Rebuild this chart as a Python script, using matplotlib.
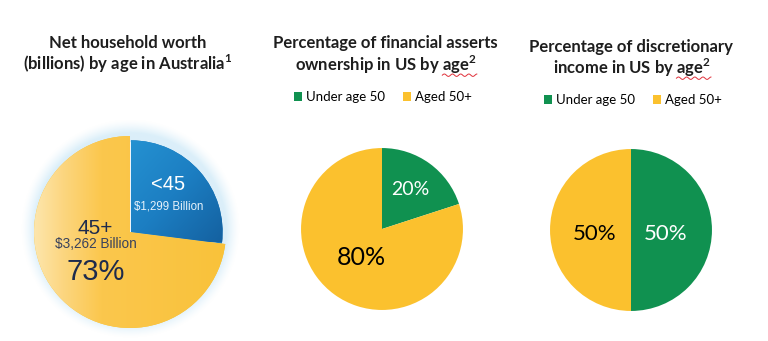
import matplotlib
matplotlib.use("Agg")
import matplotlib.pyplot as plt
import numpy as np
from matplotlib.colors import LinearSegmentedColormap

plt.rcParams['font.family'] = ['Lato', 'DejaVu Sans']
plt.rcParams['mathtext.fontset'] = 'custom'
plt.rcParams['mathtext.rm'] = 'Lato:bold'
plt.rcParams['mathtext.bf'] = 'Lato:bold'

# Australia: net household worth by age (billions) and share of the 45+ group
au_groups = ['<45', '45+']
au_worth = [1299, 3262]
au_share_older = 73

# US by age: financial assets and discretionary income (percent)
us_legend = ['Under age 50', 'Aged 50+']
us_assets = [20, 80]
us_income = [50, 50]

GREEN = '#109150'
YELLOW = '#fbc12e'
TITLE_COLOR = '#1e1e1e'
TITLE_SIZE = 12

W, H = 768, 341
fig = plt.figure(figsize=(W / 100, H / 100), dpi=100)
fig.patch.set_facecolor('white')


def pie_axes(cx, cy, r, span=1.2):
    # square axes centred on (cx, cy) in pixels, one data unit = r pixels
    half = r * span
    ax = fig.add_axes([(cx - half) / W, (H - cy - half) / H, 2 * half / W, 2 * half / H])
    ax.set_xlim(-span, span)
    ax.set_ylim(-span, span)
    ax.set_aspect('equal')
    ax.axis('off')
    return ax


def title(cx, cy, s):
    return fig.text(cx / W, 1 - cy / H, s, ha='center', va='center', fontsize=TITLE_SIZE,
                    fontweight='bold', color=TITLE_COLOR)


def squiggle(t, word, sup):
    # red spell-check wave under the last word of a title line
    r = fig.canvas.get_renderer()
    bb = t.get_window_extent(r)
    tmp = fig.text(0, 0, word + sup, fontsize=TITLE_SIZE, fontweight='bold')
    w = tmp.get_window_extent(r).width
    tmp.remove()
    xs = np.linspace(bb.x1 - w, bb.x1, 60)
    ys = bb.y0 + 1.0 + 1.2 * np.sin((xs - xs[0]) / 1.3)
    fig.add_artist(plt.Line2D(xs / W, ys / H, color='#e0303a', lw=0.7))


def mid_point(w, frac, dy=0.0):
    a = np.deg2rad((w.theta1 + w.theta2) / 2)
    return frac * np.cos(a), frac * np.sin(a) + dy


# ---- chart 1: Australia ----
ax1 = pie_axes(130, 232, 100, span=1.2)

# soft blue glow around the pie
g = np.linspace(-1.2, 1.2, 300)
gx, gy = np.meshgrid(g, g)
rr = np.hypot(gx, gy - 0.03)
glow = np.clip((1.14 - rr) / 0.14, 0, 1) * (rr > 0.9)
rgba = np.zeros((300, 300, 4))
rgba[..., 0], rgba[..., 1], rgba[..., 2] = 0.80, 0.91, 0.97
rgba[..., 3] = 0.7 * glow ** 1.4
ax1.imshow(rgba, extent=(-1.2, 1.2, -1.2, 1.2), origin='lower', zorder=0)

au_shares = [100 - au_share_older, au_share_older]
wedges1, _ = ax1.pie(au_shares, startangle=90, counterclock=False,
                     colors=['#1a78bb', YELLOW], radius=1.0,
                     wedgeprops=dict(linewidth=0))
w_blue, w_yel = wedges1
w_blue.set_radius(0.955)
w_blue.set_center((0.01, 0.0))

yel_cmap = LinearSegmentedColormap.from_list(
    'yel', [(0, '#fde6ad'), (0.15, '#fcd680'), (0.35, '#fbc74d'), (1, '#f9c23a')])
grad = np.tile(np.linspace(0, 1, 256), (2, 1))
im = ax1.imshow(grad, cmap=yel_cmap, extent=(-1, 1, -1, 1), aspect='auto', zorder=1)
im.set_clip_path(w_yel)
w_yel.set_zorder(0.5)

blue_cmap = LinearSegmentedColormap.from_list('blu', ['#2592d2', '#1c7ec2', '#14609f'])
bx, by = np.meshgrid(np.linspace(0, 1, 200), np.linspace(0, 1, 200))
bgrad = (bx + (1 - by)) / 2
imb = ax1.imshow(bgrad, cmap=blue_cmap, extent=(0, 1, -0.1, 1), origin='lower',
                 aspect='auto', zorder=2)
imb.set_clip_path(w_blue)

ax1.text(0.4, 0.49, au_groups[0], ha='center', va='center', fontsize=14.5,
         color='white', family='Liberation Sans', zorder=3)
ax1.text(0.4, 0.27, f'${au_worth[0]:,} Billion', ha='center', va='center', fontsize=8.3,
         color='#e6f2fb', family='Liberation Sans', zorder=3)
ax1.text(-0.36, 0.04, au_groups[1], ha='center', va='center', fontsize=15,
         color='#1e2b4c', family='Liberation Sans', zorder=3)
ax1.text(-0.36, -0.12, f'${au_worth[1]:,} Billion', ha='center', va='center', fontsize=9.8,
         color='#39425c', family='Liberation Sans', zorder=3)
ax1.text(-0.36, -0.42, f'{au_share_older}%', ha='center', va='center', fontsize=21,
         color='#1e2b4c', family='Liberation Sans', zorder=3)

title(128, 43, 'Net household worth')
title(128, 64, r'(billions) by age in Australia$^{1}$')

# ---- chart 2: US financial assets ----
ax2 = pie_axes(382, 229, 92, span=1.1)
wedges2, _ = ax2.pie(us_assets, startangle=90, counterclock=False,
                     colors=[GREEN, YELLOW], wedgeprops=dict(linewidth=0))
x, y = mid_point(wedges2[0], 0.6)
ax2.text(x, y, f'{us_assets[0]}%', ha='center', va='center', fontsize=14, color='white')
x, y = mid_point(wedges2[1], 0.43)
ax2.text(x, y, f'{us_assets[1]}%', ha='center', va='center', fontsize=18, color='black')

title(385, 43, 'Percentage of financial asserts')
t2 = title(386, 65, r'ownership in US by age$^{2}$')
fig.legend(wedges2, us_legend, ncol=2, loc='center', bbox_to_anchor=(383 / W, 1 - 97 / H),
           frameon=False, fontsize=9.5, handlelength=0.6, handleheight=0.6,
           handletextpad=0.3, columnspacing=1.4)

# ---- chart 3: US discretionary income ----
ax3 = pie_axes(631, 230, 92, span=1.1)
wedges3, _ = ax3.pie(us_income, startangle=90, counterclock=False,
                     colors=[GREEN, YELLOW], wedgeprops=dict(linewidth=0))
x, y = mid_point(wedges3[0], 0.43, -0.05)
ax3.text(x, y, f'{us_income[0]}%', ha='center', va='center', fontsize=16, color='white')
x, y = mid_point(wedges3[1], 0.45, -0.05)
ax3.text(x, y, f'{us_income[1]}%', ha='center', va='center', fontsize=16, color='black')

title(631, 47, 'Percentage of discretionary')
t3 = title(632, 68, r'income in US by age$^{2}$')
fig.legend(wedges3, us_legend, ncol=2, loc='center', bbox_to_anchor=(633 / W, 1 - 100 / H),
           frameon=False, fontsize=9.5, handlelength=0.6, handleheight=0.6,
           handletextpad=0.3, columnspacing=1.4)

squiggle(t2, 'age', r'$^{2}$')
squiggle(t3, 'age', r'$^{2}$')

fig.savefig('out.png', dpi=100)
